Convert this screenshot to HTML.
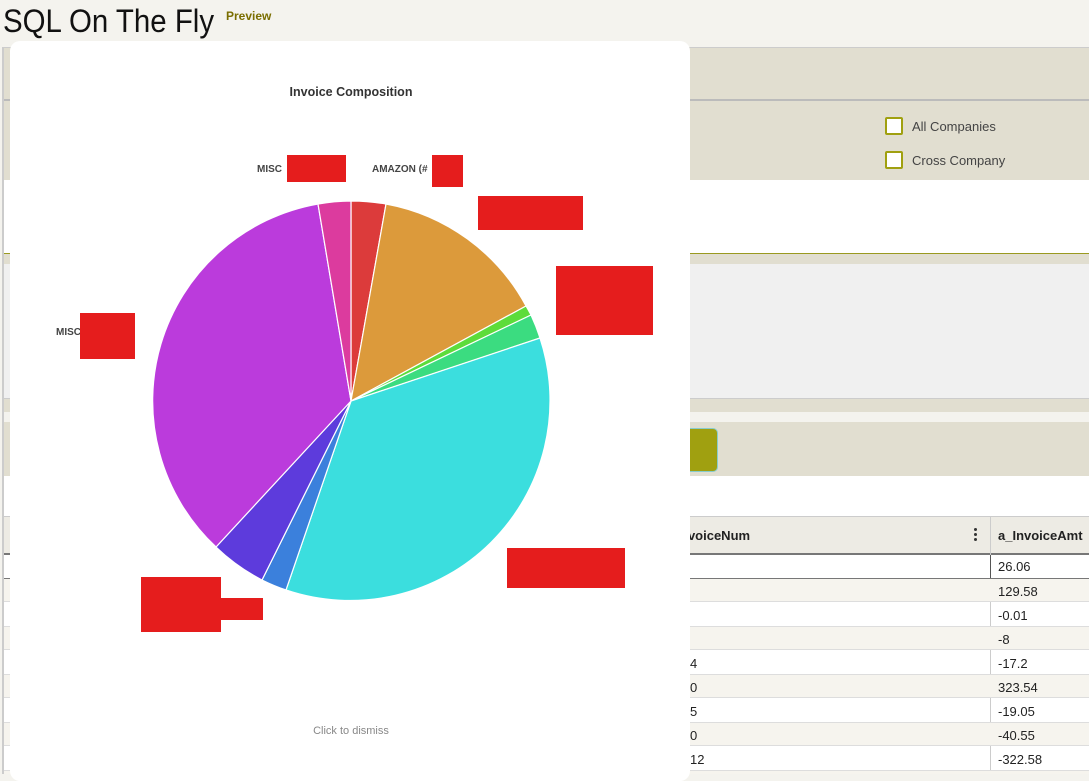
<!DOCTYPE html>
<html><head><style>
body{margin:0;width:1089px;height:774px;overflow:hidden;background:#f4f3ee;font-family:"Liberation Sans",sans-serif;position:relative}
div{position:absolute;box-sizing:border-box}
.t{font-size:13px;color:#222}
</style></head><body>
<div style="left:3px;top:3px;font-size:32px;color:#111;transform:scaleX(0.92);transform-origin:0 0;white-space:nowrap">SQL On The Fly</div>
<div style="left:226px;top:9px;font-size:12px;font-weight:bold;color:#7a6e00">Preview</div>
<div style="left:3px;top:47px;width:1086px;height:54px;background:#e1ded0;border-top:1px solid #ccc;border-bottom:2px solid #bbb"></div>
<div style="left:3px;top:101px;width:1086px;height:79px;background:#e1ded0"></div>
<div style="left:885px;top:117px;width:18px;height:18px;border:2px solid #a0a010;background:#fff;border-radius:2px"></div>
<div class="t" style="left:912px;top:119px;color:#444">All Companies</div>
<div style="left:885px;top:151px;width:18px;height:18px;border:2px solid #a0a010;background:#fff;border-radius:2px"></div>
<div class="t" style="left:912px;top:153px;color:#444">Cross Company</div>
<div style="left:3px;top:180px;width:1086px;height:73px;background:#fff"></div>
<div style="left:3px;top:253px;width:1086px;height:11px;background:#e1ded0;border-top:1px solid #9a9a20"></div>
<div style="left:3px;top:264px;width:1086px;height:134px;background:#f0f0f0"></div>
<div style="left:3px;top:398px;width:1086px;height:14px;background:#e1ded0;border-top:1px solid #ccc"></div>
<div style="left:3px;top:422px;width:1086px;height:54px;background:#e1ded0"></div>
<div style="left:660px;top:428px;width:58px;height:44px;background:#a0a010;border:1px solid #8cc;border-radius:5px"></div>
<div style="left:3px;top:476px;width:1086px;height:298px;background:#fff"></div>
<div style="left:3px;top:516px;width:1086px;height:39px;background:#edebe4;border-top:1px solid #ccc;border-bottom:2px solid #777"></div>
<div style="left:990px;top:516px;width:1px;height:258px;background:#ccc"></div>
<div style="left:974px;top:528px;width:3px;height:3px;background:#333;border-radius:2px"></div>
<div style="left:974px;top:533px;width:3px;height:3px;background:#333;border-radius:2px"></div>
<div style="left:974px;top:538px;width:3px;height:3px;background:#333;border-radius:2px"></div>
<div style="left:680px;top:528px;font-size:13px;color:#222;font-weight:bold">nvoiceNum</div>
<div style="left:998px;top:528px;font-size:13px;color:#222;font-weight:bold">a_InvoiceAmt</div>
<div style="left:3px;top:578px;width:1086px;height:24px;background:#f6f4ee;border-top:1px solid #777;border-bottom:1px solid #ddd"></div>
<div style="left:3px;top:626px;width:1086px;height:24px;background:#f6f4ee;border-top:1px solid #ddd;border-bottom:1px solid #ddd"></div>
<div style="left:3px;top:674px;width:1086px;height:24px;background:#f6f4ee;border-top:1px solid #ddd;border-bottom:1px solid #ddd"></div>
<div style="left:3px;top:722px;width:1086px;height:24px;background:#f6f4ee;border-top:1px solid #ddd;border-bottom:1px solid #ddd"></div>
<div style="left:3px;top:770px;width:1086px;height:4px;background:#f6f4ee;border-top:1px solid #ddd"></div>
<div style="left:990px;top:555px;width:1px;height:23px;background:#555"></div>
<div class="t" style="left:998px;top:559px">26.06</div>
<div class="t" style="left:998px;top:584px">129.58</div>
<div class="t" style="left:998px;top:608px">-0.01</div>
<div class="t" style="left:998px;top:632px">-8</div>
<div class="t" style="left:998px;top:656px">-17.2</div>
<div class="t" style="left:998px;top:680px">323.54</div>
<div class="t" style="left:998px;top:704px">-19.05</div>
<div class="t" style="left:998px;top:728px">-40.55</div>
<div class="t" style="left:998px;top:752px">-322.58</div>
<div class="t" style="left:690px;top:656px">4</div>
<div class="t" style="left:690px;top:680px">0</div>
<div class="t" style="left:690px;top:704px">5</div>
<div class="t" style="left:690px;top:728px">0</div>
<div class="t" style="left:690px;top:752px">12</div>
<div style="left:2px;top:47px;width:2px;height:727px;background:#ccc"></div>
<div style="left:10px;top:41px;width:680px;height:740px;background:#fff;border-radius:10px"></div>
<svg style="position:absolute;left:0;top:0" width="1089" height="774">
<text x="351" y="96" text-anchor="middle" font-family="Liberation Sans" font-size="12.5" font-weight="bold" fill="#333">Invoice Composition</text>
<g stroke="#fff" stroke-width="1.2">
<path d="M351,401 L351,201 A200,200 0 0 1 386,204 Z" fill="#dc3b3b"/>
<path d="M351,401 L386,204 A200,200 0 0 1 526,306 Z" fill="#dc9a3b"/>
<path d="M351,401 L526,306 A200,200 0 0 1 531,315 Z" fill="#5ddc3b"/>
<path d="M351,401 L531,315 A200,200 0 0 1 540,338 Z" fill="#3bdc80"/>
<path d="M351,401 L540,338 A200,200 0 0 1 286,590 Z" fill="#3bdede"/>
<path d="M351,401 L286,590 A200,200 0 0 1 262,580 Z" fill="#3b80dc"/>
<path d="M351,401 L262,580 A200,200 0 0 1 216,547 Z" fill="#5d3bdc"/>
<path d="M351,401 L216,547 A200,200 0 0 1 318,204 Z" fill="#bb3bdc"/>
<path d="M351,401 L318,204 A200,200 0 0 1 351,201 Z" fill="#dc3b9e"/>
</g>
<g font-family="Liberation Sans" font-size="10" font-weight="bold" fill="#444">
<text x="257" y="172">MISC</text>
<text x="372" y="172">AMAZON (#</text>
<text x="56" y="335">MISC</text>
</g>
<g fill="#e51d1d">
<rect x="287" y="155" width="59" height="27"/>
<rect x="432" y="155" width="31" height="32"/>
<rect x="478" y="196" width="105" height="34"/>
<rect x="556" y="266" width="97" height="69"/>
<rect x="80" y="313" width="55" height="46"/>
<rect x="507" y="548" width="118" height="40"/>
<rect x="141" y="577" width="80" height="55"/>
<rect x="221" y="598" width="42" height="22"/>
</g>
<text x="351" y="734" text-anchor="middle" font-family="Liberation Sans" font-size="11" fill="#888">Click to dismiss</text>
</svg>
</body></html>
